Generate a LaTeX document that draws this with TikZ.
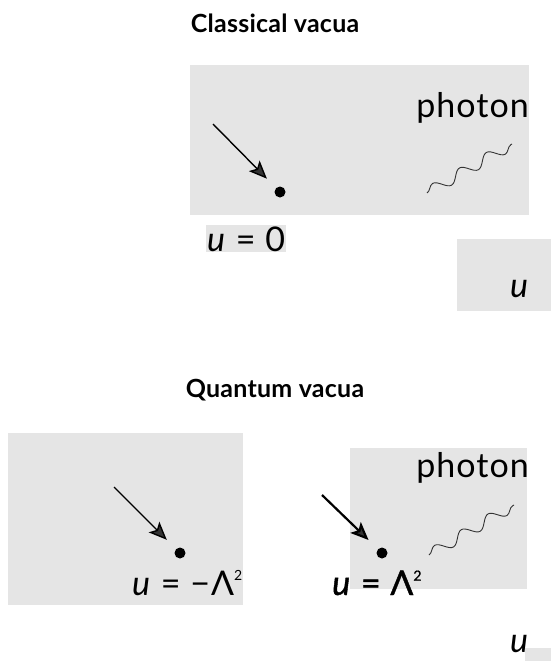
\documentclass[tikz,border=0pt]{standalone}
\usepackage{fontspec}
\setmainfont{Lato}
\newfontfamily\titlefont[LetterSpace=1]{Lato}
\newfontfamily\labelfont[LetterSpace=3]{Lato}
\newfontfamily\heavylabelfont[LetterSpace=3,FakeBold=1.2]{Lato}
\usetikzlibrary{arrows.meta,decorations.pathmorphing}

% small raised square
\newcommand{\sqr}{\raisebox{0.42em}{\fontsize{14}{14}\selectfont 2}}

\tikzset{
  vacbox/.style={fill=gray!20, draw=none},
  vacdot/.style={circle, fill=black, inner sep=0pt, minimum size=11pt},
  pointer/.style={line width=1.4pt, shorten >=13pt,
    -{Stealth[length=18pt,width=15pt,inset=4pt,fill=black!80,line join=miter]}},
  wavy/.style={draw=gray!40!black, line width=0.9pt, decorate,
    decoration={snake, segment length=31pt, amplitude=5.5pt}},
  heading/.style={font=\titlefont\bfseries\fontsize{25}{29}\selectfont, inner sep=0pt},
  biglabel/.style={font=\labelfont\fontsize{34}{37}\selectfont, inner sep=0pt},
}

\begin{document}
\begin{tikzpicture}[x=1pt,y=-1pt]
  \useasboundingbox (0,0) rectangle (551,661);

  % Classical vacua
  \node[heading, anchor=base] (classtitle) at (275,33) {Classical vacua};

  \fill[vacbox] (190,65) rectangle (529,215);
  \fill[vacbox] (457,239) rectangle (551,311);

  \node[vacdot] (cdot) at (280,192) {};
  \coordinate (carrow) at (213,124);
  \draw[pointer] (carrow) -- (cdot);

  \node[biglabel, anchor=base east] (cphoton) at (529,117) {photon};
  \coordinate (cwavestart) at (427,193);
  \coordinate (cwaveend) at (512,144);
  \draw[wavy] (cwavestart) -- (cwaveend);

  \node[biglabel, vacbox, inner sep=1pt, anchor=base west] (czero) at (206,251) {\textit{u} = 0};
  \node[biglabel, anchor=base west] (cu) at (510,297) {\textit{u}};

  % Quantum vacua
  \node[heading, anchor=base] (quanttitle) at (275,397) {Quantum vacua};

  \fill[vacbox] (8,433) rectangle (243,605);
  \fill[vacbox] (350,448) rectangle (527,589);
  \fill[vacbox] (525,648) rectangle (551,661);

  \node[vacdot] (qdotleft) at (180,553) {};
  \coordinate (qarrowleft) at (114,487);
  \draw[pointer] (qarrowleft) -- (qdotleft);
  \node[biglabel, anchor=base west] (qminus) at (132,595) {\textit{u} = −Λ\sqr};

  \node[vacdot] (qdotright) at (382,553) {};
  \coordinate (qarrowright) at (322,495);
  \draw[pointer, line width=2.2pt] (qarrowright) -- (qdotright);
  \node[biglabel, font=\heavylabelfont\fontsize{34}{37}\selectfont, anchor=base west] (qplus) at (332,595) {\textit{u} = Λ\sqr};

  \node[biglabel, anchor=base east] (qphoton) at (529,477) {photon};
  \coordinate (qwavestart) at (429,555);
  \coordinate (qwaveend) at (514,505);
  \draw[wavy] (qwavestart) -- (qwaveend);

  \node[biglabel, anchor=base west] (qu) at (510,652) {\textit{u}};
\end{tikzpicture}
\end{document}
